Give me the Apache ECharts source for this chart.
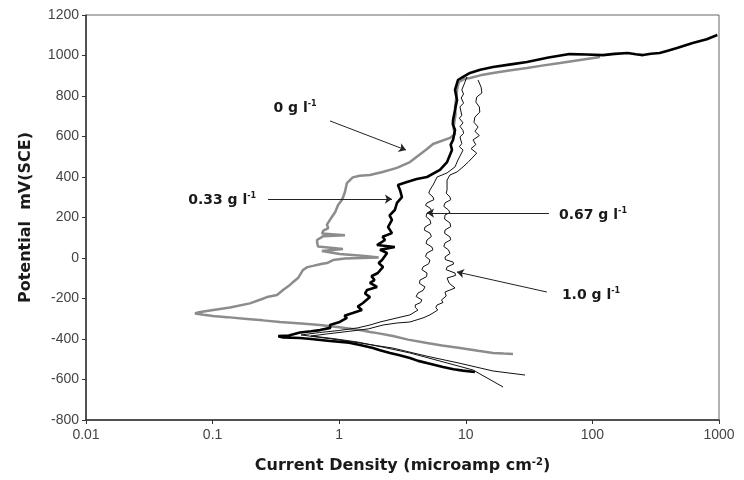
<!DOCTYPE html>
<html>
<head>
<meta charset="utf-8">
<script src="https://cdn.jsdelivr.net/npm/echarts@6/dist/echarts.min.js"></script>
<style>
  html, body { margin: 0; width: 100%; height: 100%; background: #fff; }
  #chart { width: 744px; height: 480px; }
</style>
</head>
<body>
<div id="chart"></div>
<script type="text/javascript">
// [current density (microamp cm-2), potential mV(SCE)] in scan order
var curve0 = [
  [23.6,-474],[20,-472],[16.4,-469],[12.5,-458],[9.0,-444],[6.5,-432],[4.94,-420],[3.5,-403],[2.66,-385],[2.0,-371],
  [1.75,-365],[1.46,-356],[1.0,-342],[0.705,-331],[0.5,-323],[0.34,-316],[0.25,-308],[0.187,-301],[0.13,-292],[0.1007,-286],
  [0.085,-280],[0.0726,-274],[0.078,-268],[0.0953,-259],[0.137,-244],[0.197,-224],[0.24,-205],[0.269,-193],[0.323,-183],[0.36,-158],
  [0.408,-133],[0.44,-115],[0.473,-99],[0.518,-59],[0.56,-45],[0.621,-39],[0.72,-30],[0.802,-25],[0.893,-10],[1.11,-2],
  [1.5,0],[2.05,2],[1.6,10],[1.01,20],[0.73,35],[1.07,44],[0.68,57],[0.67,75],[0.668,89],[0.745,107],
  [1.11,112],[0.731,121],[0.75,135],[0.82,148],[0.8,165],[0.845,188],[0.88,205],[0.93,227],[0.98,262],[1.05,286],
  [1.08,305],[1.11,326],[1.15,370],[1.28,398],[1.45,406],[1.75,410],[2.2,425],[2.86,445],[3.62,474],[4.94,538],
  [5.51,563],[7.5,593],[8.22,612],[8.0,640],[8.1,667],[8.3,710],[8.22,746],[8.4,790],[8.53,830],[8.8,869],
  [9.8,885],[10.8,889],[13,902],[16.4,914],[22,926],[30.4,938],[40,950],[55.5,963],[80,978],[115,993]
];
var curve033 = [
  [11.8,-563],[9.5,-556],[8.0,-549],[6.6,-538],[5.2,-522],[4.2,-508],[3.62,-494],[3.0,-480],[2.52,-469],[2.1,-455],
  [1.85,-444],[1.46,-430],[1.2,-418],[0.845,-410],[0.6,-400],[0.49,-395],[0.36,-392],[0.33,-386],[0.4,-383],[0.49,-368],
  [0.6,-362],[0.705,-356],[0.85,-345],[0.845,-331],[1.01,-316],[1.15,-296],[1.1,-285],[1.28,-272],[1.51,-257],[1.4,-240],
  [1.54,-222],[1.75,-193],[1.6,-175],[1.66,-158],[1.99,-143],[1.75,-123],[1.90,-109],[1.8,-90],[2.02,-74],[2.22,-44],
  [2.05,-25],[2.18,-10],[2.39,25],[2.10,40],[2.75,54],[1.99,64],[2.30,89],[2.2,105],[2.61,123],[2.43,153],
  [2.61,188],[2.5,210],[2.75,237],[2.86,272],[3.13,301],[3.02,336],[2.91,360],[3.43,375],[4.1,390],[4.94,400],
  [6.25,435],[7.11,474],[7.78,533],[7.6,560],[7.93,583],[8.22,632],[7.9,660],[7.93,681],[8.22,731],[8.4,760],
  [8.53,780],[8.22,830],[8.67,879],[9.51,894],[10.8,914],[13,930],[16.4,943],[22,955],[30.4,968],[45,990],
  [66,1007],[90,1005],[121,1002],[150,1008],[190,1012],[220,1006],[251,1002],[290,1009],[340,1012],[400,1025],
  [466,1037],[620,1062],[800,1080],[970,1101]
];
var curve067 = [
  [29.4,-578],[16.4,-558],[9.0,-520],[4.94,-485],[2.66,-445],[1.46,-420],[1.0,-405],[0.7,-392],[0.5,-380],[0.7,-368],
  [1.0,-358],[1.4,-345],[1.75,-331],[2.10,-316],[2.86,-296],[3.62,-281],[4.19,-257],[4.0,-245],[3.98,-232],[4.4,-220],
  [4.5,-207],[4.05,-190],[4.19,-173],[4.6,-160],[4.76,-143],[4.3,-125],[4.35,-109],[4.9,-92],[4.94,-74],[4.5,-58],
  [4.59,-44],[5.1,-28],[5.21,-10],[4.8,8],[4.94,25],[5.5,40],[5.4,54],[4.85,72],[4.94,89],[5.35,106],
  [5.21,123],[4.7,138],[4.76,153],[5.3,170],[5.21,188],[4.85,205],[4.94,222],[5.35,235],[5.21,247],[4.8,260],
  [4.94,272],[5.6,288],[5.51,301],[5.1,320],[5.21,336],[5.51,360],[5.93,400],[7.11,420],[8.22,450],[8.67,484],
  [9.51,533],[8.9,550],[9.3,565],[8.99,598],[9.6,615],[9.51,630],[9.0,650],[9.51,667],[8.9,690],[9.3,705],
  [8.99,746],[9.6,765],[9.2,790],[9.6,810],[9.3,830],[9.8,865],[10.2,894]
];
var curve10 = [
  [19.7,-637],[14.7,-592],[11.4,-553],[6.61,-513],[3.62,-469],[2.2,-440],[1.4,-415],[0.9,-398],[0.6,-385],[0.8,-375],
  [1.2,-362],[1.7,-350],[2.22,-331],[2.86,-321],[3.62,-316],[4.59,-296],[5.21,-281],[6.0,-257],[5.8,-245],[5.93,-232],
  [6.6,-220],[6.43,-207],[7.0,-188],[6.85,-168],[8.22,-148],[7.4,-125],[7.11,-99],[8.3,-86],[8.22,-74],[7.0,-58],
  [7.11,-44],[8.0,-30],[7.93,-20],[6.9,-8],[6.85,5],[7.5,22],[7.3,40],[6.7,57],[6.85,74],[7.6,90],
  [7.5,104],[6.8,122],[6.85,138],[7.6,155],[7.5,173],[6.8,192],[6.85,212],[7.5,225],[7.3,237],[6.7,255],
  [6.85,272],[7.6,288],[7.5,301],[7.0,320],[7.11,336],[7.11,385],[7.5,410],[8.53,425],[9.51,450],[10.5,475],
  [12.2,518],[11.0,540],[12.0,560],[11.4,583],[12.8,605],[11.8,625],[12.5,647],[11.6,670],[11.8,696],[12.9,720],
  [12.8,746],[12.0,770],[12.2,795],[13.4,815],[13.2,844],[12.5,879]
];

// annotation texts and arrows, in data units
var labelNames = ['0 g l', '0.33 g l', '0.67 g l', '1.0 g l'];
var labelAt = [[0.448,741],[0.119,286],[101,212],[97.5,-183]];
var arrowFrom = [[0.845,677],[0.274,291],[45.4,222],[43.7,-168]];
var arrowTo = [[3.37,533],[2.61,291],[4.94,222],[8.51,-69]];

var chart = echarts.init(document.getElementById('chart'));
var font = 'Liberation Sans, Arial, sans-serif';
var wide = 'DejaVu Sans, sans-serif';
var rich = {
  b: { fontSize: 14, fontWeight: 'bold', fontFamily: wide, color: '#1a1a1a', lineHeight: 17 },
  s: { fontSize: 8, fontWeight: 'bold', fontFamily: wide, color: '#1a1a1a', verticalAlign: 'top', lineHeight: 10 }
};

function annot(i) {
  return {
    silent: true,
    markLine: {
      silent: true,
      symbol: ['none', 'arrow'],
      symbolSize: 7,
      lineStyle: { color: '#222', width: 1, type: 'solid' },
      label: { show: false },
      data: [[{ coord: arrowFrom[i] }, { coord: arrowTo[i] }]]
    },
    markPoint: {
      silent: true,
      symbol: 'rect',
      symbolSize: 0,
      label: { show: true, position: 'inside', formatter: '{b|' + labelNames[i] + '}{s|-1}', rich: rich },
      data: [{ coord: labelAt[i] }]
    }
  };
}

function makeSeries(data, color, width, i) {
  return Object.assign({
    type: 'line',
    data: data,
    showSymbol: false,
    symbol: 'none',
    lineStyle: { color: color, width: width },
    z: width > 2 ? 3 : 4
  }, annot(i));
}

chart.setOption({
  animation: false,
  grid: { left: 86, right: 25, top: 15, bottom: 60, show: true, borderColor: '#666', borderWidth: 1 },
  xAxis: {
    type: 'log', logBase: 10, min: 0.01, max: 1000,
    name: '{b|Current Density (microamp cm}{s|-2}{b|)}',
    nameLocation: 'middle', nameGap: 37,
    nameTextStyle: { rich: {
      b: { fontSize: 16, fontWeight: 'bold', fontFamily: wide, color: '#1a1a1a', lineHeight: 18 },
      s: { fontSize: 10, fontWeight: 'bold', fontFamily: wide, color: '#1a1a1a', verticalAlign: 'top', lineHeight: 11 }
    } },
    axisLine: { onZero: false, lineStyle: { color: '#333', width: 1.5 } },
    axisTick: { show: true, length: 4, lineStyle: { color: '#333' } },
    minorTick: { show: false },
    splitLine: { show: false },
    axisLabel: { fontSize: 14, fontFamily: font, color: '#444', margin: 8,
      formatter: function (v) { return String(+(+v).toPrecision(3)); } }
  },
  yAxis: {
    type: 'value', min: -800, max: 1200, interval: 200,
    name: 'Potential  mV(SCE)', nameLocation: 'middle', nameGap: 52,
    nameTextStyle: { fontSize: 16, fontWeight: 'bold', fontFamily: wide, color: '#1a1a1a' },
    axisLine: { show: true, onZero: false, lineStyle: { color: '#333', width: 1.5 } },
    axisTick: { show: true, length: 4, lineStyle: { color: '#333' } },
    splitLine: { show: false },
    axisLabel: { fontSize: 14, fontFamily: font, color: '#444', margin: 7,
      formatter: function (v) { return String(v); } }
  },
  series: [
    makeSeries(curve0, '#8c8c8c', 2.5, 0),
    makeSeries(curve033, '#000', 2.6, 1),
    makeSeries(curve067, '#111', 1, 2),
    makeSeries(curve10, '#111', 1, 3)
  ]
});
</script>
</body>
</html>
